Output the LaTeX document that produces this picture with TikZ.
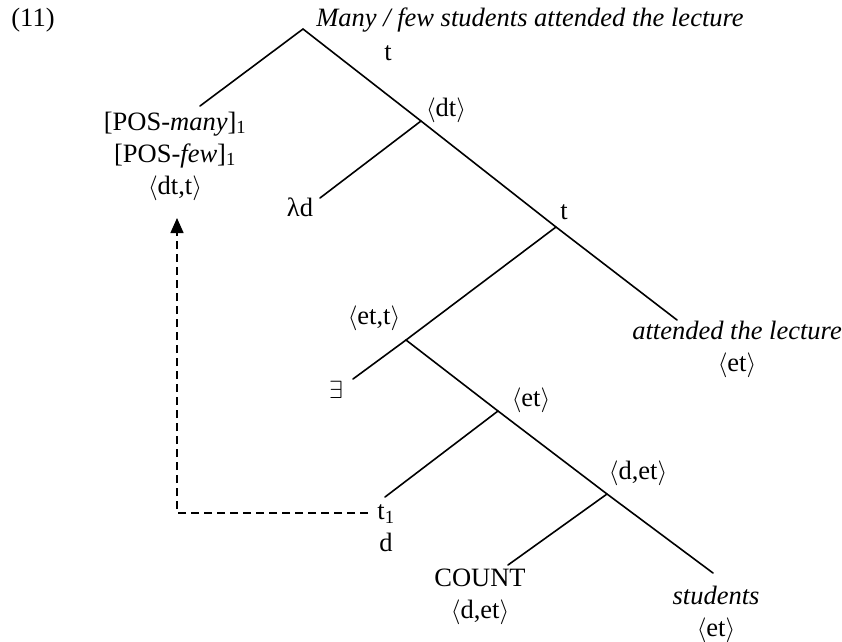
\documentclass[tikz,border=0pt]{standalone}
\usepackage{fontspec}
\setmainfont{Liberation Serif}
\usetikzlibrary{arrows.meta}
\newcommand{\ang}[1]{$\langle$#1$\rangle$}
\begin{document}
\begin{tikzpicture}[x=1pt,y=-1pt,
  font=\fontsize{26.5pt}{32pt}\selectfont,
  lbl/.style={inner sep=0pt,anchor=center},
  branch/.style={line width=1.6pt,line cap=round},
  movement/.style={line width=1.5pt,dash pattern=on 8pt off 5pt,-{Triangle[length=15pt,width=13pt]}}]
\useasboundingbox (0,0) rectangle (842,641);
% junctions and branch ends
\coordinate (R)  at (303,29);
\coordinate (J1) at (421,121);
\coordinate (J2) at (556,227);
\coordinate (J3) at (406,340);
\coordinate (J4) at (498,411);
\coordinate (J5) at (607,494);
\coordinate (Epos) at (200,106);
\coordinate (Elam) at (320,198);
\coordinate (Eatt) at (677,320);
\coordinate (Eex) at (353,379);
\coordinate (Et) at (385,497);
\coordinate (Ecount) at (508,565);
\coordinate (Estud) at (713,573);
\coordinate (Dstart) at (368,513);
\coordinate (Dcorner) at (177,513);
\coordinate (Dtip) at (177,218);
% labels
\node[lbl] (num) at (33,20) {(11)};
\node[lbl] (root) at (530,20) {\itshape Many / few students attended the lecture};
\node[lbl] (rootT) at (388,53) {t};
\node[lbl,align=center] (pos) at (175,156) {{[}POS-\textit{many}]\textsubscript{1}\\{[}POS-\textit{few}]\textsubscript{1}\\\ang{dt,t}};
\node[lbl] (dt) at (446,110) {\ang{dt}};
\node[lbl] (lam) at (300,207) {λd};
\node[lbl] (t2) at (564,212) {t};
\node[lbl,align=center] (att) at (737,349) {\textit{attended the lecture}\\\ang{et}};
\node[lbl] (ett) at (374,318) {\ang{et,t}};
\node[lbl] (ex) at (336,390) {$\exists$};
\node[lbl] (et) at (531,400) {\ang{et}};
\node[lbl,align=center] (tone) at (386,528) {t\textsubscript{1}\\d};
\node[lbl] (det) at (638,473) {\ang{d,et}};
\node[lbl,align=center] (count) at (480,597) {COUNT\\\ang{d,et}};
\node[lbl,align=center] (stud) at (716,614) {\textit{students}\\\ang{et}};
% branches
\draw[branch] (Epos) -- (R) -- (J1) -- (J2) -- (Eatt);
\draw[branch] (Elam) -- (J1);
\draw[branch] (J2) -- (J3) -- (J4) -- (J5) -- (Estud);
\draw[branch] (Eex) -- (J3);
\draw[branch] (Et) -- (J4);
\draw[branch] (Ecount) -- (J5);
% movement arrow
\draw[movement] (Dstart) -- (Dcorner) -- (Dtip);
\end{tikzpicture}
\end{document}
